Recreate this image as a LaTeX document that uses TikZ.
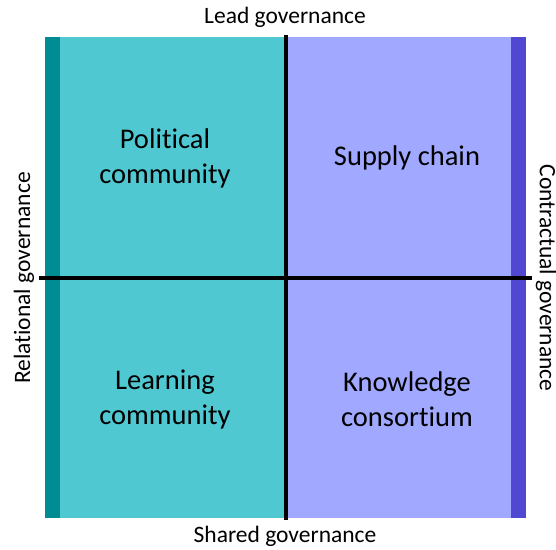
\documentclass[tikz,border=0pt]{standalone}
\usepackage{fontspec}
\setmainfont{Carlito}[Ligatures=NoCommon]
\usetikzlibrary{positioning}
\definecolor{mytealL}{RGB}{80,200,210}
\definecolor{mytealD}{RGB}{0,140,146}
\definecolor{mypurpL}{RGB}{160,168,255}
\definecolor{mypurpD}{RGB}{80,72,208}
\begin{document}
\begin{tikzpicture}[x=1pt,y=-1pt,
  quad/.style={align=center,font=\fontsize{28.5}{35}\selectfont,text=black},
  axis/.style={font=\fontsize{23.5}{27}\selectfont,text=black},
  cross/.style={line width=4.2pt,black}]

  \useasboundingbox (0,0) rectangle (556,549);

  % quadrant fills
  \fill[mytealL] (45,37) rectangle (286,518);
  \fill[mypurpL] (286,37) rectangle (526,518);
  \fill[mytealD] (45,37) rectangle (60,518);
  \fill[mypurpD] (511,37) rectangle (526,518);

  % axes
  \coordinate (west) at (39,278);
  \coordinate (east) at (532,278);
  \coordinate (north) at (286,35);
  \coordinate (south) at (286,520);
  \draw[cross] (west) -- (east);
  \draw[cross] (north) -- (south);

  % quadrant labels
  \node[quad] (political) at (165,158) {Political\\community};
  \node[quad] (supply) at (407,158) {Supply chain};
  \node[quad] (learning) at (165,399) {Learning\\community};
  \node[quad] (knowledge) at (407,399) {Knowledge\\consortium};

  % axis labels
  \node[axis] (lead) at (285,17) {Lead governance};
  \node[axis] (shared) at (285,536.5) {Shared governance};
  \node[axis,rotate=90] (relational) at (24,278) {Relational governance};
  \node[axis,rotate=-90] (contractual) at (546,278) {Contractual governance};
\end{tikzpicture}
\end{document}
